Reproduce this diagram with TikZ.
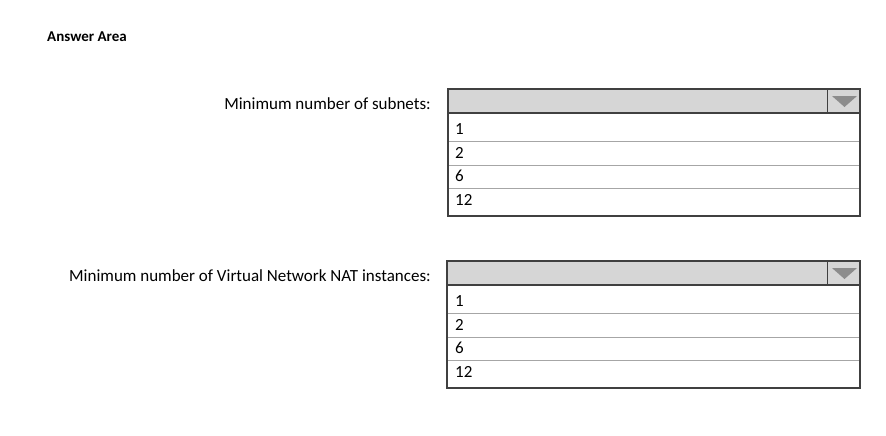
\documentclass[tikz,border=0pt]{standalone}
\usepackage{fontspec}
\setmainfont{Carlito}
\begin{document}
\begin{tikzpicture}[x=1pt,y=-1pt,
  lbl/.style={anchor=east,inner sep=0pt,font=\fontsize{17}{20}\selectfont},
  opt/.style={anchor=west,inner sep=0pt,font=\fontsize{17}{20}\selectfont},
  outer/.style={draw=black!75,line width=1.2pt},
  hdr/.style={draw=black!75,fill=black!16,line width=1.2pt},
  rowline/.style={draw=black!35,line width=0.8pt},
  tri/.style={fill=black!45,draw=none}]
\useasboundingbox (0,0) rectangle (886,436);
\node[anchor=west,inner sep=0pt,font=\fontsize{15}{18}\selectfont\bfseries] (title) at (47,37) {Answer Area};
\foreach \i/\oy/\x/\txt in {1/0/448/Minimum number of subnets:,2/172/447/Minimum number of Virtual Network NAT instances:}{
  \node[lbl] (lab\i) at (431,104+\oy) {\txt};
  \draw[outer] (\x,89+\oy) rectangle (860,216+\oy);
  \draw[hdr] (\x,89+\oy) rectangle (860,113+\oy);
  \draw[draw=black!75,line width=1pt] (827,89+\oy) -- (827,113+\oy);
  \fill[tri] (832,96+\oy) -- (857,96+\oy) -- (844.5,107+\oy) -- cycle;
  \foreach \yy in {141,165,188}{\draw[rowline] (\x+1,\yy+\oy) -- (859,\yy+\oy);}
  \node[opt] (o\i a) at (455,129+\oy) {1};
  \node[opt] (o\i b) at (455,153+\oy) {2};
  \node[opt] (o\i c) at (455,176+\oy) {6};
  \node[opt] (o\i d) at (455,200+\oy) {12};
}
\end{tikzpicture}
\end{document}
